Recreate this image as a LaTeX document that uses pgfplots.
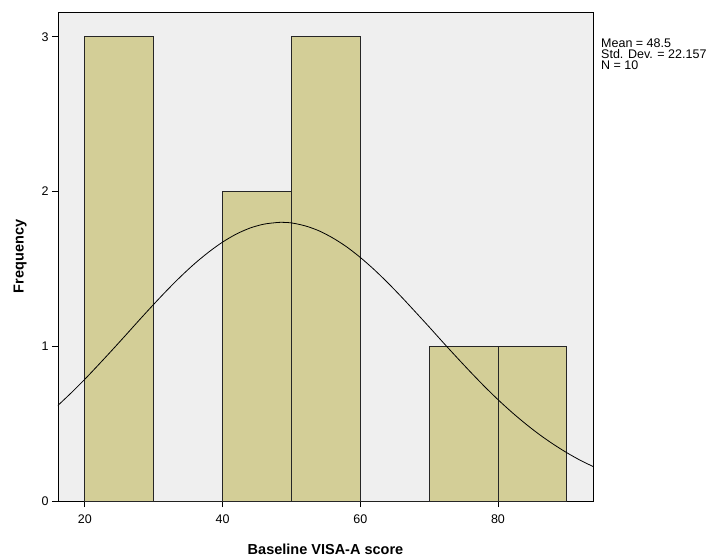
\documentclass[border=0pt]{standalone}
\usepackage{pgfplots}
\pgfplotsset{compat=1.18}
\usepackage{fontspec}
\setmainfont{Liberation Sans}
\definecolor{barfill}{RGB}{211,206,151}
\definecolor{plotbg}{RGB}{239,239,239}
\begin{document}
\begin{tikzpicture}
\begin{axis}[
  name=ax,
  scale only axis,
  width=535bp, height=489bp,
  xmin=16.1, xmax=93.8,
  ymin=0, ymax=3.16,
  xtick={20,40,60,80},
  ytick={0,1,2,3},
  tick pos=left,
  tick align=outside,
  major tick length=6bp,
  tick style={black, line width=0.8pt},
  axis line style={line width=0.8pt},
  axis background/.style={fill=plotbg},
  ticklabel style={font=\fontsize{12.5bp}{14bp}\selectfont},
  xticklabel style={yshift=-4bp},
  /pgf/number format/assume math mode=true,
  xlabel={\textbf{Baseline VISA-A score}},
  ylabel={\textbf{Frequency}},
  label style={font=\fontsize{14.5bp}{16bp}\selectfont},
  xlabel style={yshift=-14bp},
  ylabel style={yshift=8bp},
  clip=true,
]
\addplot[ybar interval, fill=barfill, draw=black!85, line width=0.9pt]
  coordinates {(20,3) (30,0) (40,2) (50,3) (60,0) (70,1) (80,1) (90,1)};
\addplot[black, line width=0.8pt, smooth, no markers] coordinates {
(16,0.614) (18,0.698) (20,0.787) (22,0.881) (24,0.977) (26,1.075) (28,1.174)
(30,1.271) (32,1.365) (34,1.454) (36,1.536) (38,1.609) (40,1.673) (42,1.725)
(44,1.764) (46,1.789) (48,1.800) (48.5,1.801) (50,1.797) (52,1.778) (54,1.746)
(56,1.700) (58,1.643) (60,1.574) (62,1.496) (64,1.410) (66,1.318) (68,1.222)
(70,1.125) (72,1.026) (74,0.929) (76,0.834) (78,0.742) (80,0.655) (82,0.574)
(84,0.499) (86,0.430) (88,0.368) (90,0.312) (92,0.262) (94,0.219)};
\end{axis}
\node[anchor=north west, align=left, inner sep=0pt,
  font=\fontsize{12.5bp}{11bp}\selectfont]
  at ([xshift=8bp,yshift=-27bp]ax.north east)
  {Mean = 48.5\\Std. Dev. = 22.157\\N = 10};
\path[use as bounding box] ([xshift=-58bp,yshift=-56bp]ax.south west) rectangle ([xshift=125bp,yshift=12bp]ax.north east);
\end{tikzpicture}
\end{document}
